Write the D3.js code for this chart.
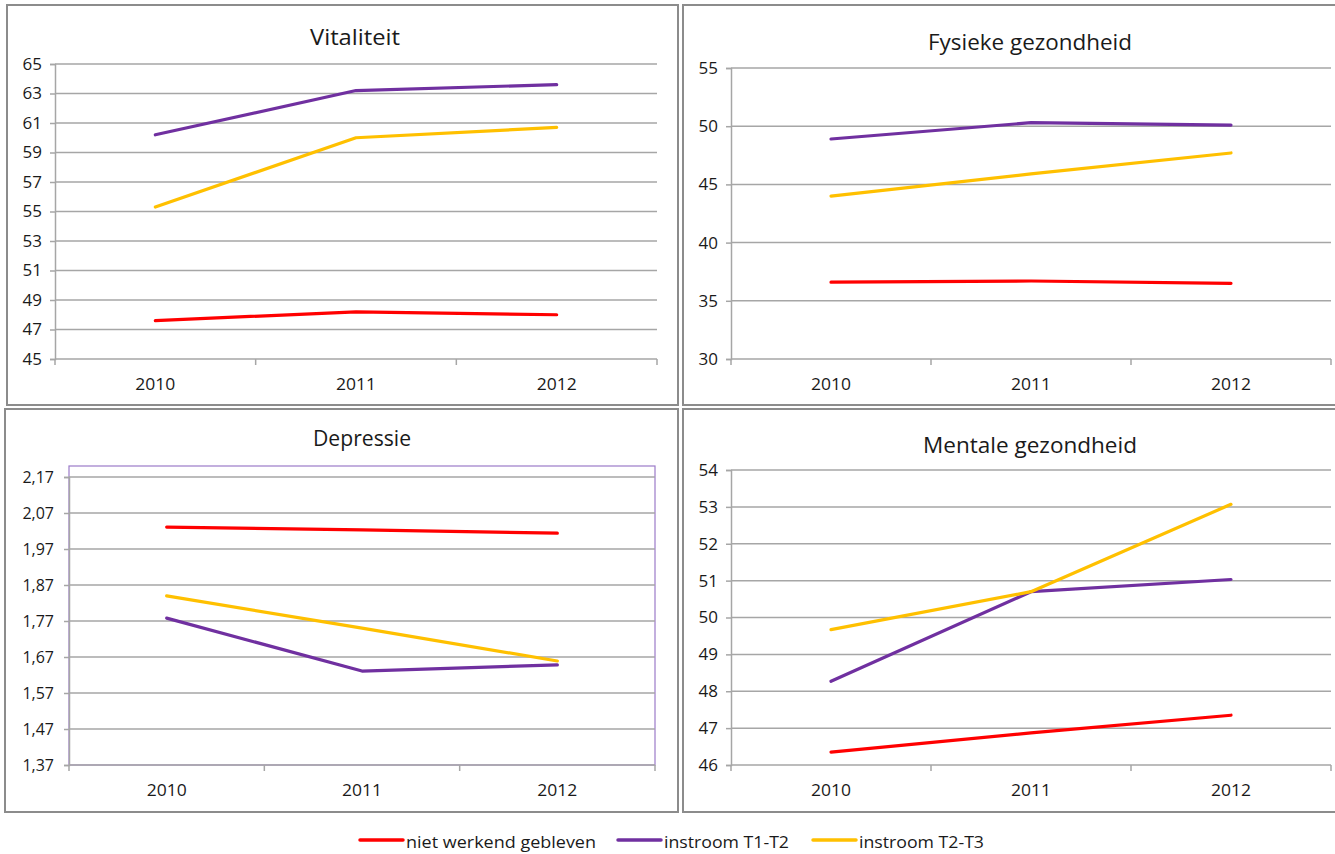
<!DOCTYPE html>
<html>
<head>
<meta charset="utf-8">
<script src="https://cdn.jsdelivr.net/npm/d3@7"></script>
<style>
  body { margin: 0; background: #fff; }
  text { font-family: "Open Sans", Lato, sans-serif; fill: #1a1a1a; }
</style>
</head>
<body>
<div id="plot_div"></div>
<script>
const width  = 1335;
const height = 854;

// data
const years = ["2010", "2011", "2012"];
const series_names  = ["niet werkend gebleven", "instroom T1-T2", "instroom T2-T3"];
const series_colors = ["#FF0000", "#7030A0", "#FFC000"];

const vitaliteit_red    = [47.6, 48.2, 48.0];
const vitaliteit_purple = [60.2, 63.2, 63.6];
const vitaliteit_yellow = [55.3, 60.0, 60.7];

const fysiek_red    = [36.6, 36.7, 36.5];
const fysiek_purple = [48.9, 50.3, 50.1];
const fysiek_yellow = [44.0, 45.9, 47.7];

const depressie_red    = [2.031, 2.023, 2.014];
const depressie_purple = [1.778, 1.631, 1.648];
const depressie_yellow = [1.840, 1.750, 1.659];

const mentaal_red    = [46.35, 46.87, 47.35];
const mentaal_purple = [48.27, 50.70, 51.03];
const mentaal_yellow = [49.67, 50.70, 53.07];

const vitaliteit_ticks = [45, 47, 49, 51, 53, 55, 57, 59, 61, 63, 65];
const fysiek_ticks     = [30, 35, 40, 45, 50, 55];
const depressie_ticks  = [1.37, 1.47, 1.57, 1.67, 1.77, 1.87, 1.97, 2.07, 2.17];
const mentaal_ticks    = [46, 47, 48, 49, 50, 51, 52, 53, 54];

const svg = d3.create("svg")
      .attr("width", width)
      .attr("height", height)
      .attr("viewBox", [0, 0, width, height]);

const comma = d => d3.format(".2f")(d).replace(".", ",");

function draw_panel(p) {
    // outer frame
    svg.append("rect")
        .attr("x", p.frame[0]).attr("y", p.frame[1])
        .attr("width", p.frame[2]).attr("height", p.frame[3])
        .attr("fill", "#fff")
        .attr("stroke", "#8c8c8c")
        .attr("stroke-width", 2);

    const x = d3.scaleBand().domain(years).range([p.left, p.right]);
    const y = d3.scaleLinear().domain([p.ticks[0], p.ticks[p.ticks.length - 1]])
        .range([p.bottom, p.top]);

    const g = svg.append("g");

    if (p.plotBorder) {
        g.append("rect")
            .attr("x", p.left).attr("y", p.plotBorder)
            .attr("width", p.right - p.left).attr("height", p.bottom - p.plotBorder)
            .attr("fill", "none")
            .attr("stroke", "#9B7BC8")
            .attr("stroke-width", 1.2);
    }

    // gridlines
    g.selectAll("line.grid")
        .data(p.ticks.slice(1))
        .join("line")
        .attr("class", "grid")
        .attr("x1", p.left).attr("x2", p.right)
        .attr("y1", d => y(d)).attr("y2", d => y(d))
        .attr("stroke", "#A6A6A6")
        .attr("stroke-width", 1.5);

    // y axis
    const ya = g.append("g")
        .attr("transform", `translate(${p.left},0)`)
        .call(d3.axisLeft(y).tickValues(p.ticks).tickSize(5).tickPadding(p.pad || 8)
              .tickFormat(p.fmt || (d => d)));
    ya.select(".domain").attr("stroke", "#A6A6A6").attr("stroke-width", 1.5);
    ya.selectAll(".tick line").attr("stroke", "#A6A6A6").attr("stroke-width", 1.5);
    ya.selectAll(".tick text")
        .style("font-size", p.ySize || "17px")
        .style("font-family", "'Open Sans', sans-serif")
        .attr("fill", "#1a1a1a");

    // x axis with ticks at band edges
    const xa = g.append("g")
        .attr("transform", `translate(0,${p.bottom})`);
    xa.append("line")
        .attr("x1", p.left).attr("x2", p.right)
        .attr("stroke", "#A6A6A6").attr("stroke-width", 1.5);
    xa.selectAll("line.edge")
        .data([p.left].concat(years.map(d => x(d) + x.bandwidth())))
        .join("line")
        .attr("class", "edge")
        .attr("x1", d => d).attr("x2", d => d)
        .attr("y1", 0).attr("y2", 6)
        .attr("stroke", "#A6A6A6").attr("stroke-width", 1.5);
    xa.selectAll("text")
        .data(years)
        .join("text")
        .attr("x", d => x(d) + x.bandwidth() / 2)
        .attr("y", 31)
        .attr("text-anchor", "middle")
        .style("font-size", "16px")
        .attr("textLength", 40)
        .attr("lengthAdjust", "spacingAndGlyphs")
        .text(d => d);

    // series
    const line = d3.line()
        .x((d, i) => x(years[i]) + x.bandwidth() / 2)
        .y(d => y(d));
    p.series.forEach((s, k) => {
        g.append("path")
            .datum(s)
            .attr("d", line)
            .attr("fill", "none")
            .attr("stroke", series_colors[k])
            .attr("stroke-width", 3.2)
            .attr("stroke-linecap", "round")
            .attr("stroke-linejoin", "round");
    });

    // title
    svg.append("text")
        .attr("x", p.titleX).attr("y", p.titleY)
        .attr("text-anchor", "middle")
        .style("font-size", "22px")
        .attr("textLength", p.titleLen)
        .attr("lengthAdjust", "spacingAndGlyphs")
        .text(p.title);
}

draw_panel({title: "Vitaliteit", titleX: 355, titleY: 45, titleLen: 90,
            frame: [7, 5, 671, 400], left: 55, right: 657, top: 64, bottom: 359,
            ticks: vitaliteit_ticks,
            series: [vitaliteit_red, vitaliteit_purple, vitaliteit_yellow]});

draw_panel({title: "Fysieke gezondheid", titleX: 1030, titleY: 50, titleLen: 204,
            frame: [683, 5, 660, 400], left: 731, right: 1331, top: 68, bottom: 359,
            ticks: fysiek_ticks,
            series: [fysiek_red, fysiek_purple, fysiek_yellow]});

draw_panel({title: "Depressie", titleX: 362, titleY: 446, titleLen: 98,
            frame: [5, 409, 673, 403], left: 69, right: 655, top: 477, bottom: 765,
            plotBorder: 466, ticks: depressie_ticks, fmt: comma, ySize: "16px", pad: 10,
            series: [depressie_red, depressie_purple, depressie_yellow]});

draw_panel({title: "Mentale gezondheid", titleX: 1030, titleY: 453, titleLen: 214,
            frame: [683, 409, 660, 403], left: 731, right: 1331, top: 470, bottom: 765,
            ticks: mentaal_ticks,
            series: [mentaal_red, mentaal_purple, mentaal_yellow]});

// legend
const legend_x = [360, 618, 813];
const legend_len = [190, 125, 125];
const lg = svg.append("g");
series_names.forEach((name, k) => {
    lg.append("line")
        .attr("x1", legend_x[k]).attr("x2", legend_x[k] + 43)
        .attr("y1", 840).attr("y2", 840)
        .attr("stroke", series_colors[k])
        .attr("stroke-width", 3.5)
        .attr("stroke-linecap", "round");
    lg.append("text")
        .attr("x", legend_x[k] + 46)
        .attr("y", 848)
        .style("font-size", "17px")
        .attr("textLength", legend_len[k])
        .attr("lengthAdjust", "spacingAndGlyphs")
        .text(name);
});

plot_div.append(svg.node());
</script>
</body>
</html>
